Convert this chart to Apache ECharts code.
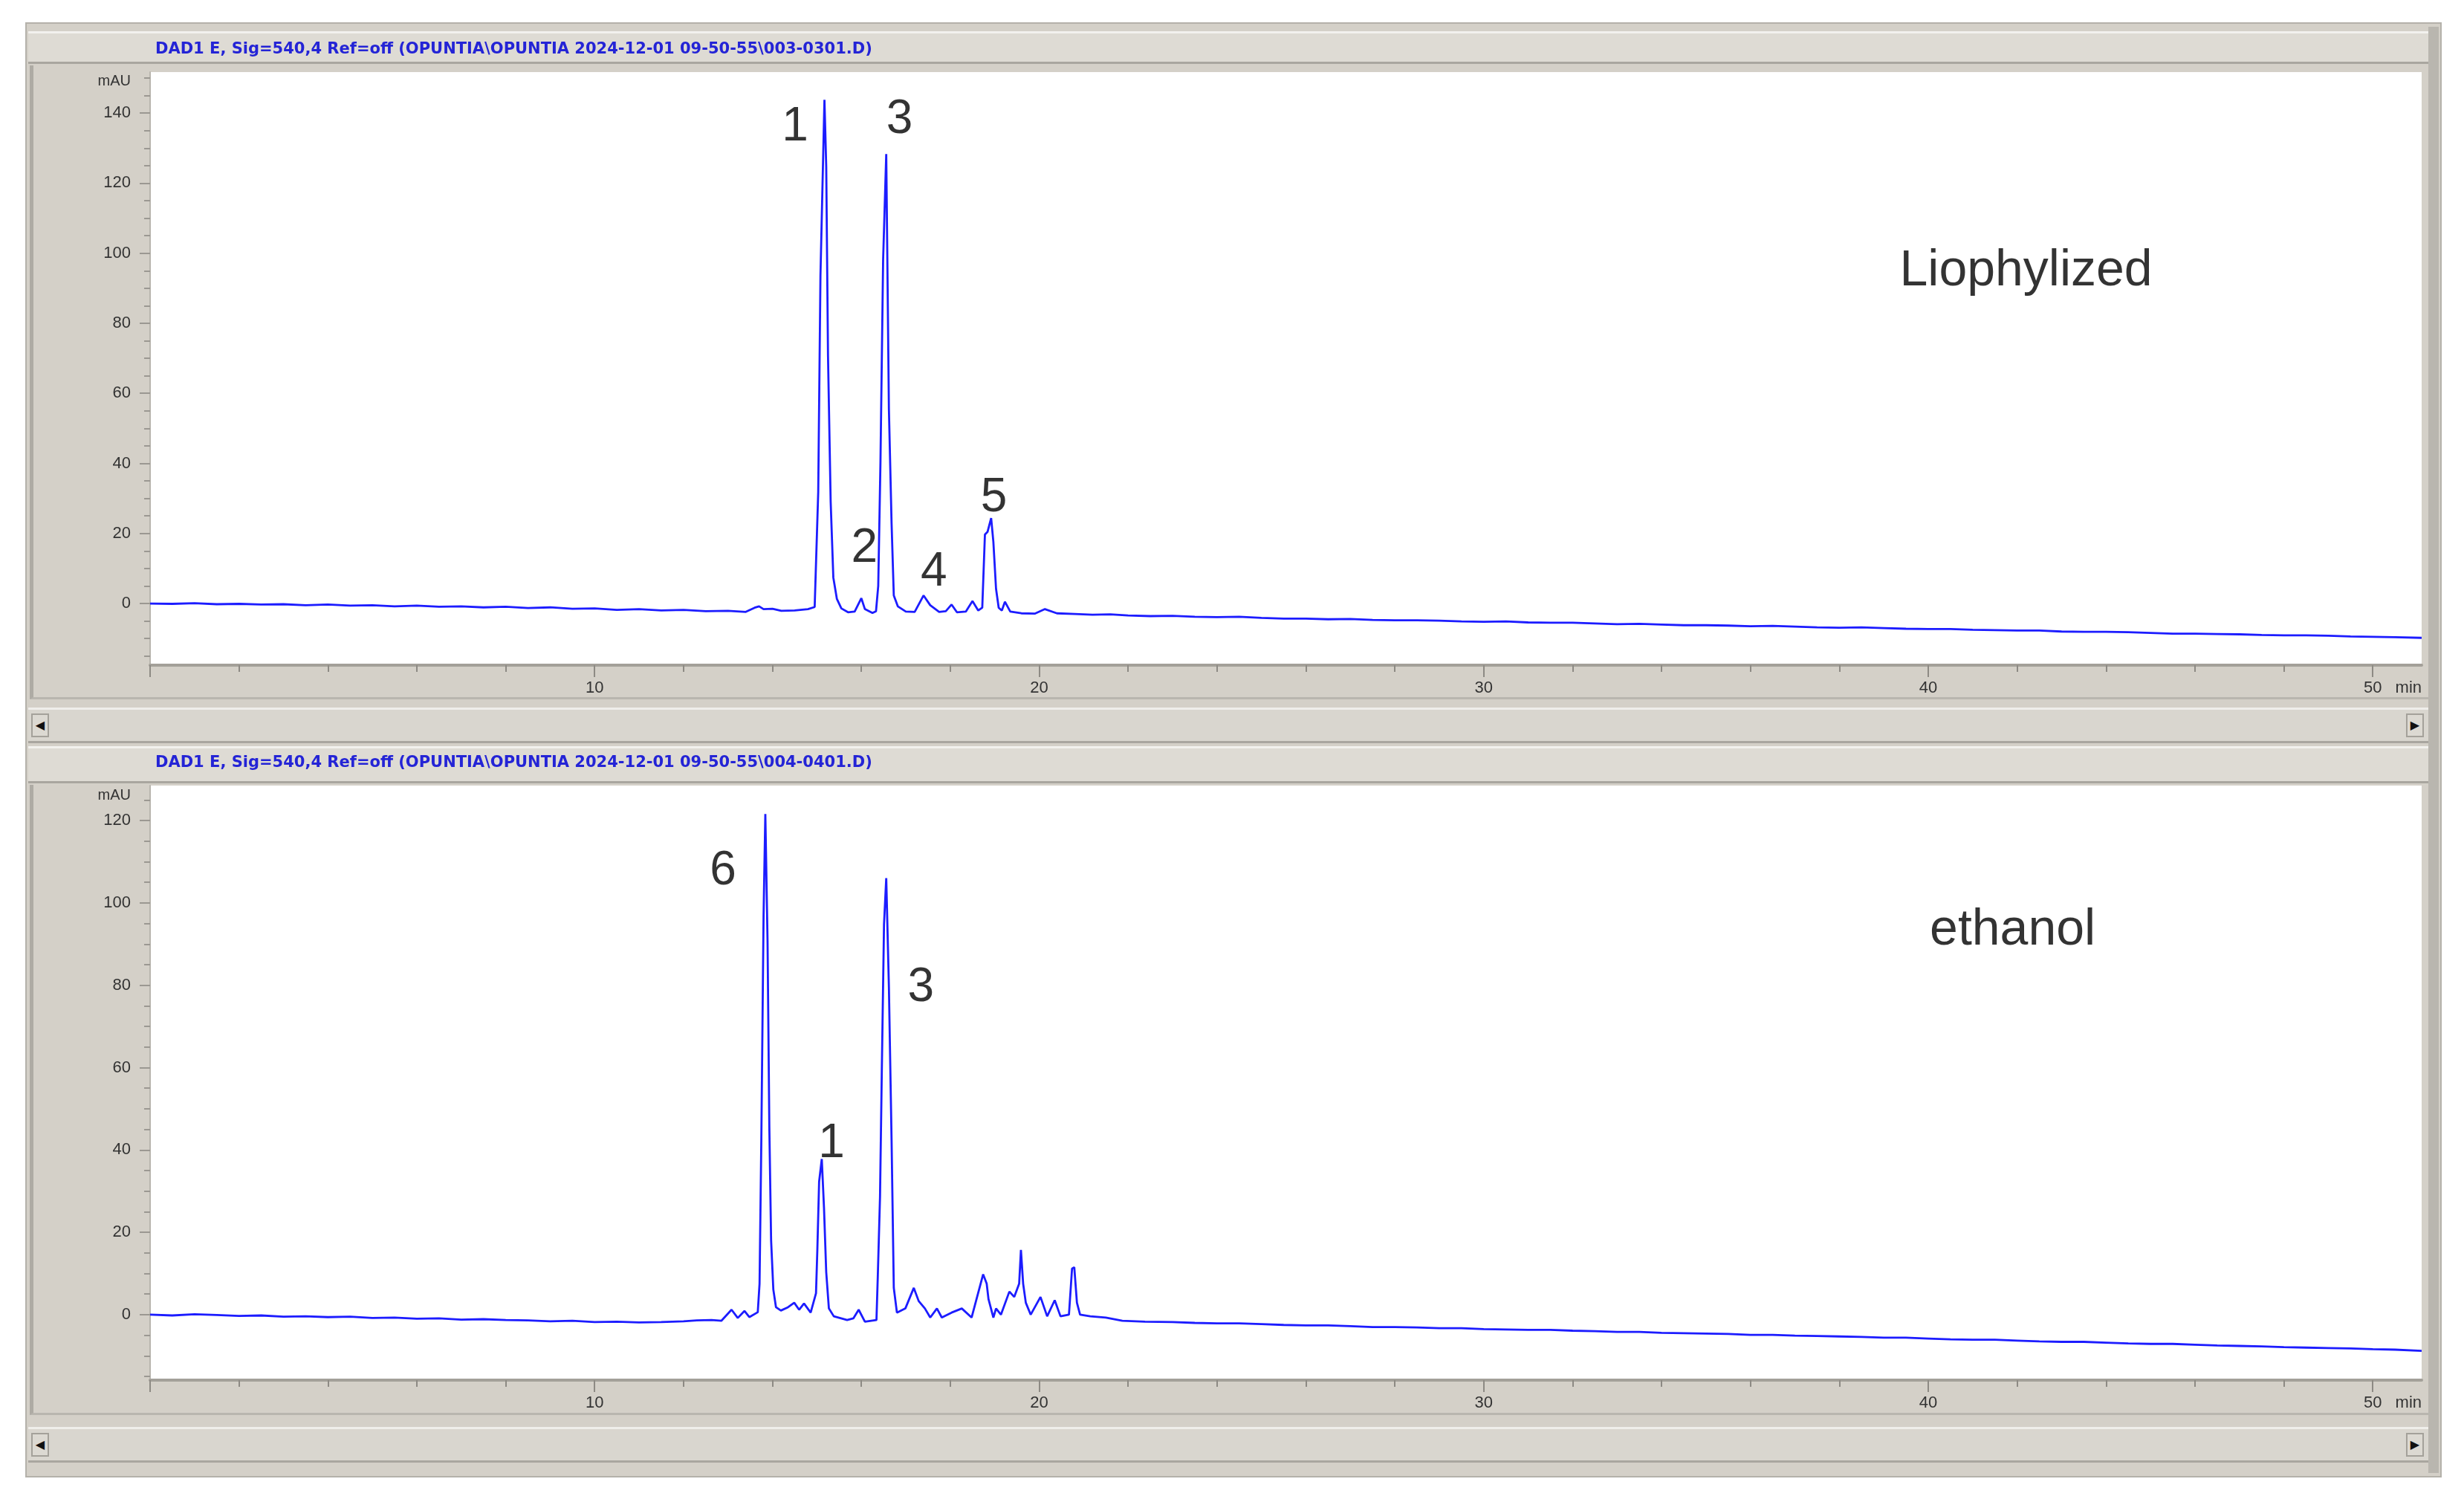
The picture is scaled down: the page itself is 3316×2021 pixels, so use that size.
<!DOCTYPE html>
<html>
<head>
<meta charset="utf-8">
<title>Chromatograms</title>
<script src="https://cdn.jsdelivr.net/npm/echarts@6/dist/echarts.min.js"></script>
<style>
    html, body { margin: 0; padding: 0; background: #fff; }
    #wrap { position: relative; width: 3316px; height: 2021px; overflow: hidden; }
    #chart { position: absolute; left: 0; top: 0; width: 3316px; height: 2021px; z-index: 2; }
    .box { position: absolute; box-sizing: border-box; }
    .frame { background: #d4d0c8; border: 2px solid #b4b1aa; }
    .bar { background: #dedbd4; border-top: 3px solid #f2f1ee; border-bottom: 3px solid #a9a69f; }
    .panel { background: #d4d0c8; border-left: 5px solid #aeaba4; border-bottom: 3px solid #b9b6af; }
    .scroll { background: #d9d6cf; border-top: 3px solid #efeeea; border-bottom: 3px solid #a9a69f; }
    .btn { background: #dcd9d2; border: 2px solid #a4a19a; font: 16px 'DejaVu Sans', sans-serif; color: #111; text-align: center; line-height: 28px; }
</style>
</head>
<body>
<div id="wrap">
    <div class="box frame" style="left:34px;top:30px;width:3252px;height:1958px;"></div>
    <!-- top window -->
    <div class="box bar" style="left:38px;top:42px;width:3240px;height:44px;"></div>
    <div class="box panel" style="left:40px;top:88px;width:3236px;height:853px;"></div>
    <div class="box scroll" style="left:38px;top:952px;width:3240px;height:48px;"></div>
    <div class="box btn" style="left:42px;top:960px;width:24px;height:32px;">&#9664;</div>
    <div class="box btn" style="left:3238px;top:960px;width:24px;height:32px;">&#9654;</div>
    <!-- bottom window -->
    <div class="box bar" style="left:38px;top:1004px;width:3240px;height:50px;"></div>
    <div class="box panel" style="left:40px;top:1056px;width:3236px;height:848px;"></div>
    <div class="box scroll" style="left:38px;top:1920px;width:3240px;height:48px;"></div>
    <div class="box btn" style="left:42px;top:1928px;width:24px;height:32px;">&#9664;</div>
    <div class="box btn" style="left:3238px;top:1928px;width:24px;height:32px;">&#9654;</div>
    <div class="box" style="left:3268px;top:36px;width:14px;height:1946px;background:#b9b6af;"></div>
    <div id="chart"></div>
</div>
<script>
// window captions
var titleTop = "DAD1 E, Sig=540,4 Ref=off (OPUNTIA\\OPUNTIA 2024-12-01 09-50-55\\003-0301.D)";
var titleBottom = "DAD1 E, Sig=540,4 Ref=off (OPUNTIA\\OPUNTIA 2024-12-01 09-50-55\\004-0401.D)";

// axis ticks
var timeLabels = [10, 20, 30, 40, 50];
var timeTicks = [0, 10, 20, 30, 40, 50];
var mauLabelsTop = [0, 20, 40, 60, 80, 100, 120, 140];
var mauLabelsBottom = [0, 20, 40, 60, 80, 100, 120];

// Liophylized trace (min, mAU)
var lioTime = [0.0, 0.5, 1.0, 1.5, 2.0, 2.5, 3.0, 3.5, 4.0, 4.5, 5.0, 5.5, 6.0, 6.5, 7.0, 7.5, 8.0, 8.5, 9.0, 9.5,
    10.0, 10.5, 11.0, 11.5, 12.0, 12.5, 13.0, 13.4, 13.6, 13.7, 13.8, 14.0, 14.2, 14.5, 14.8, 14.95,
    15.03, 15.08, 15.17, 15.21, 15.25, 15.31, 15.37, 15.45, 15.55, 15.7, 15.85, 16.0, 16.08, 16.25, 16.33,
    16.38, 16.43, 16.49, 16.56, 16.62, 16.68, 16.73, 16.82, 17.0, 17.2, 17.4, 17.55, 17.75, 17.9, 18.03,
    18.15, 18.35, 18.5, 18.63, 18.72, 18.78, 18.84, 18.92, 18.97, 19.03, 19.09, 19.16, 19.23, 19.35, 19.6,
    19.9, 20.13, 20.4, 20.8, 21.2, 21.6, 22.0, 22.5, 23, 23.5, 24, 24.5, 25, 25.5, 26, 26.5, 27, 27.5, 28, 28.5,
    29, 29.5, 30, 30.5, 31, 31.5, 32, 32.5, 33, 33.5, 34, 34.5, 35, 35.5, 36, 36.5, 37, 37.5, 38, 38.5, 39, 39.5,
    40, 40.5, 41, 41.5, 42, 42.5, 43, 43.5, 44, 44.5, 45, 45.5, 46, 46.5, 47, 47.5, 48, 48.5, 49, 49.5, 50, 50.5, 51.1];
var lioSignal = [0.0, -0.1, 0.1, -0.2, -0.1, -0.3, -0.2, -0.5, -0.3, -0.6, -0.5, -0.8, -0.6, -0.9, -0.8, -1.1, -0.9, -1.3, -1.1, -1.5,
    -1.4, -1.8, -1.6, -2.0, -1.8, -2.2, -2.1, -2.4, -1.2, -0.8, -1.6, -1.5, -2.1, -2.0, -1.6, -1.0,
    31.8, 93.5, 143.8, 124.7, 70.8, 29.0, 7.4, 1.3, -1.4, -2.5, -2.3, 1.5, -1.6, -2.7, -2.2,
    5.0, 40.3, 98.2, 128.3, 55.5, 22.9, 2.3, -0.8, -2.3, -2.4, 2.3, -0.5, -2.4, -2.2, -0.3,
    -2.5, -2.3, 0.7, -2.0, -1.2, 19.7, 20.5, 24.4, 17.6, 4.2, -1.2, -2.0, 0.5, -2.3, -2.8,
    -2.9, -1.6, -2.8, -3.0, -3.2, -3.1, -3.4, -3.6, -3.5, -3.8, -3.9, -3.8, -4.1, -4.3, -4.3, -4.5, -4.4, -4.7, -4.8, -4.8,
    -4.9, -5.1, -5.2, -5.1, -5.4, -5.5, -5.5, -5.7, -5.9, -5.8, -6.0, -6.2, -6.2, -6.3, -6.5, -6.4, -6.6, -6.8, -6.9, -6.8, -7.0, -7.2,
    -7.3, -7.3, -7.5, -7.6, -7.7, -7.7, -8.0, -8.1, -8.1, -8.2, -8.4, -8.6, -8.6, -8.7, -8.8, -9.0, -9.1, -9.1, -9.2, -9.4, -9.5, -9.6, -9.8];

// ethanol trace (min, mAU)
var ethTime = [0.0, 0.5, 1.0, 1.5, 2.0, 2.5, 3.0, 3.5, 4.0, 4.5, 5.0, 5.5, 6.0, 6.5, 7.0, 7.5, 8.0, 8.5, 9.0, 9.5,
    10.0, 10.5, 11.0, 11.5, 12.0, 12.3, 12.63, 12.85, 13.08, 13.22, 13.37, 13.48, 13.67,
    13.71, 13.75, 13.8, 13.84, 13.89, 13.93, 13.97, 14.02, 14.08, 14.19, 14.35, 14.49, 14.6, 14.71, 14.86, 14.98,
    15.01, 15.05, 15.11, 15.16, 15.21, 15.27, 15.38, 15.68, 15.82, 15.94, 16.08, 16.34,
    16.37, 16.42, 16.46, 16.51, 16.56, 16.62, 16.68, 16.73, 16.8, 16.99, 17.18, 17.29, 17.43, 17.55, 17.7, 17.81,
    18.03, 18.26, 18.48, 18.74, 18.82, 18.86, 18.97, 19.03, 19.14, 19.33, 19.44, 19.55, 19.59, 19.64, 19.7, 19.81,
    20.03, 20.18, 20.35, 20.48, 20.67, 20.74, 20.79, 20.85, 20.92, 21.15, 21.5, 21.87, 22.38, 23, 23.5, 24, 24.5, 25, 25.5,
    26, 26.5, 27, 27.5, 28, 28.5, 29, 29.5, 30, 30.5, 31, 31.5, 32, 32.5, 33, 33.5, 34, 34.5, 35, 35.5, 36, 36.5, 37, 37.5,
    38, 38.5, 39, 39.5, 40, 40.5, 41, 41.5, 42, 42.5, 43, 43.5, 44, 44.5, 45, 45.5, 46, 46.5, 47, 47.5, 48, 48.5, 49, 49.5, 50, 50.5, 51.1];
var ethSignal = [0.0, -0.2, 0.1, -0.1, -0.3, -0.2, -0.5, -0.4, -0.6, -0.5, -0.8, -0.7, -1.0, -0.9, -1.2, -1.1, -1.3, -1.4, -1.6, -1.5,
    -1.8, -1.7, -1.9, -1.8, -1.6, -1.4, -1.3, -1.5, 1.2, -0.8, 0.9, -0.6, 0.6,
    7.5, 42.4, 96.6, 121.6, 90.7, 45.6, 18.0, 6.1, 1.8, 1.0, 1.8, 2.9, 1.2, 2.7, 0.5, 5.2,
    15.7, 32.3, 37.8, 25.9, 10.3, 1.5, -0.4, -1.3, -0.9, 1.2, -1.7, -1.3,
    9.3, 28.6, 58.9, 94.8, 106.0, 79.6, 42.4, 6.5, 0.5, 1.5, 6.5, 3.3, 1.5, -0.7, 1.5, -0.7,
    0.5, 1.5, -0.7, 9.8, 7.5, 3.8, -0.7, 1.5, 0.0, 5.6, 4.3, 7.5, 15.7, 7.5, 2.9, 0.0,
    4.3, -0.4, 3.5, -0.4, 0.0, 11.2, 11.5, 2.9, 0.0, -0.4, -0.7, -1.5, -1.7, -1.8, -2.0, -2.1, -2.1, -2.3, -2.5,
    -2.6, -2.6, -2.8, -3.0, -3.0, -3.1, -3.3, -3.3, -3.5, -3.6, -3.7, -3.7, -3.9, -4.0, -4.2, -4.2, -4.4, -4.5, -4.6, -4.7, -4.9, -4.9, -5.1, -5.2,
    -5.3, -5.4, -5.6, -5.6, -5.8, -6.0, -6.1, -6.1, -6.3, -6.5, -6.6, -6.6, -6.8, -7.0, -7.1, -7.1, -7.3, -7.5, -7.6, -7.7, -7.9, -8.0, -8.1, -8.2, -8.4, -8.5, -8.8];

// peak numbers and sample names, placed in data units
var lioPeakText = ["1", "3", "2", "4", "5"];
var lioPeakX = [14.51, 16.86, 16.07, 17.63, 18.98];
var lioPeakY = [136, 138, 15.7, 8.9, 30.1];
var ethPeakText = ["6", "1", "3"];
var ethPeakX = [12.89, 15.33, 17.34];
var ethPeakY = [107.7, 41.4, 79.3];
var sampleNames = ["Liophylized", "ethanol"];
var sampleX = [42.2, 41.9];
var sampleY = [94.8, 93.3];

var chart = echarts.init(document.getElementById("chart"));

function pairs(xs, ys) {
    var out = [];
    for (var i = 0; i < xs.length; i++) out.push([xs[i], ys[i]]);
    return out;
}

function labelPoints(xs, ys, texts) {
    var out = [];
    for (var i = 0; i < xs.length; i++) out.push({ value: [xs[i], ys[i]], name: texts[i] });
    return out;
}

var axisFont = "'Liberation Sans', Arial, sans-serif";

function timeAxis(gridIndex) {
    return {
        type: "value", gridIndex: gridIndex, min: 0, max: 51.1, splitNumber: 5,
        splitLine: { show: false },
        axisLine: { show: true, onZero: false, lineStyle: { color: "#a3a099", width: 4 } },
        axisTick: { show: true, customValues: timeTicks, length: 16, lineStyle: { color: "#8d8a84", width: 2 } },
        minorTick: { show: true, splitNumber: 5, length: 9, lineStyle: { color: "#8d8a84", width: 2 } },
        axisLabel: {
            customValues: timeLabels, margin: 20, color: "#333", fontSize: 22, fontFamily: axisFont
        },
        name: "min", nameLocation: "end", nameGap: 0,
        nameTextStyle: { align: "right", verticalAlign: "top", padding: [20, 0, 0, 0], color: "#333", fontSize: 22, fontFamily: axisFont }
    };
}

function mauAxis(gridIndex, min, max, labels, gap) {
    return {
        type: "value", gridIndex: gridIndex, min: min, max: max, splitNumber: 8,
        splitLine: { show: false },
        axisLine: { show: true, onZero: false, lineStyle: { color: "#b8b5ae", width: 2 } },
        axisTick: { show: true, customValues: labels, length: 14, lineStyle: { color: "#9b9892", width: 2 } },
        minorTick: { show: true, splitNumber: 4, length: 8, lineStyle: { color: "#9b9892", width: 2 } },
        axisLabel: { customValues: labels, margin: 26, color: "#333", fontSize: 22, fontFamily: axisFont },
        name: "mAU", nameLocation: "end", nameGap: gap,
        nameTextStyle: { align: "right", verticalAlign: "middle", padding: [0, 26, 0, 0], color: "#333", fontSize: 20, fontFamily: axisFont }
    };
}

var traceStyle = { color: "#1c1cff", width: 2.8 };
var peakLabel = { show: true, position: "inside", formatter: "{b}", color: "#000", fontSize: 64, fontFamily: "'Liberation Sans', Arial, sans-serif" };
var nameLabel = { show: true, position: "inside", formatter: "{b}", color: "#000", fontSize: 68, fontFamily: "'Liberation Sans', Arial, sans-serif" };
var hiddenDot = { color: "rgba(0,0,0,0)" };
var titleStyle = { color: "#2424d6", fontSize: 21, fontWeight: "bold", fontFamily: "'DejaVu Sans', sans-serif" };

chart.setOption({
    backgroundColor: "transparent",
    animation: false,
    title: [
        { text: titleTop, left: 204, top: 51, textStyle: titleStyle },
        { text: titleBottom, left: 204, top: 1011, textStyle: titleStyle }
    ],
    grid: [
        { left: 202, top: 97, width: 3057, height: 798, show: true, backgroundColor: "#fff", borderWidth: 0 },
        { left: 202, top: 1057, width: 3057, height: 800, show: true, backgroundColor: "#fff", borderWidth: 0 }
    ],
    xAxis: [timeAxis(0), timeAxis(1)],
    yAxis: [
        mauAxis(0, -17.6, 151.7, mauLabelsTop, -12),
        mauAxis(1, -15.9, 128.5, mauLabelsBottom, -13)
    ],
    series: [
        {
            name: "Liophylized", type: "line", xAxisIndex: 0, yAxisIndex: 0, showSymbol: false,
            lineStyle: traceStyle, data: pairs(lioTime, lioSignal)
        },
        {
            name: "ethanol", type: "line", xAxisIndex: 1, yAxisIndex: 1, showSymbol: false,
            lineStyle: traceStyle, data: pairs(ethTime, ethSignal)
        },
        {
            type: "scatter", xAxisIndex: 0, yAxisIndex: 0, symbolSize: 1, itemStyle: hiddenDot, z: 5,
            label: peakLabel, data: labelPoints(lioPeakX, lioPeakY, lioPeakText)
        },
        {
            type: "scatter", xAxisIndex: 1, yAxisIndex: 1, symbolSize: 1, itemStyle: hiddenDot, z: 5,
            label: peakLabel, data: labelPoints(ethPeakX, ethPeakY, ethPeakText)
        },
        {
            type: "scatter", xAxisIndex: 0, yAxisIndex: 0, symbolSize: 1, itemStyle: hiddenDot, z: 5,
            label: nameLabel, data: labelPoints([sampleX[0]], [sampleY[0]], [sampleNames[0]])
        },
        {
            type: "scatter", xAxisIndex: 1, yAxisIndex: 1, symbolSize: 1, itemStyle: hiddenDot, z: 5,
            label: nameLabel, data: labelPoints([sampleX[1]], [sampleY[1]], [sampleNames[1]])
        }
    ]
});
</script>
</body>
</html>
